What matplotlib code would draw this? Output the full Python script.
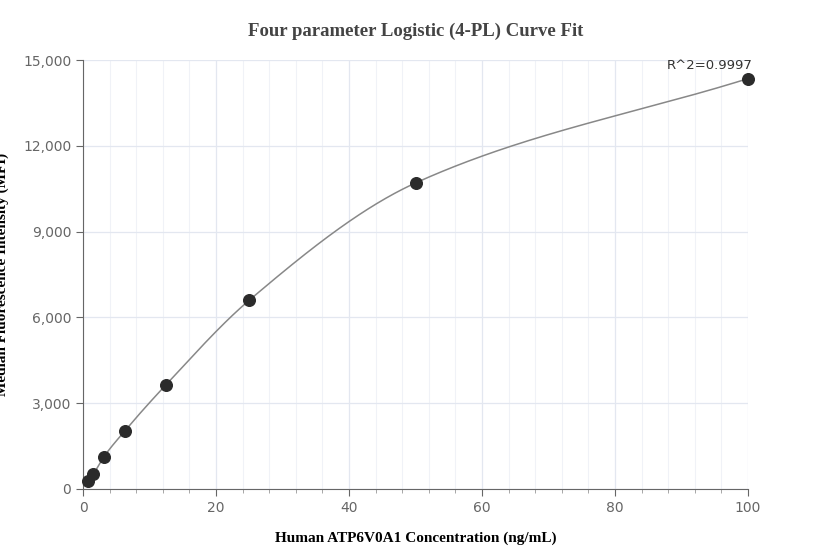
import numpy as np
import matplotlib
matplotlib.use("Agg")
import matplotlib.pyplot as plt
from matplotlib.ticker import MultipleLocator, FuncFormatter

conc = [0.78, 1.56, 3.125, 6.25, 12.5, 25, 50, 100]
mfi = [270, 520, 1120, 2020, 3650, 6600, 10700, 14350]
title = "Four parameter Logistic (4-PL) Curve Fit"
xlabel = "Human ATP6V0A1 Concentration (ng/mL)"
ylabel = "Median Fluorescence Intensity (MFI)"
r2_text = "R^2=0.9997"

def pchip(x, y, xs):
    x = np.asarray(x, float); y = np.asarray(y, float)
    h = np.diff(x); d = np.diff(y) / h
    m = np.zeros_like(y)
    for k in range(1, len(x) - 1):
        if d[k-1] * d[k] > 0:
            w1 = 2*h[k] + h[k-1]; w2 = h[k] + 2*h[k-1]
            m[k] = (w1 + w2) / (w1/d[k-1] + w2/d[k])
    m[0] = d[0]; m[-1] = d[-1]
    out = np.empty_like(xs)
    idx = np.clip(np.searchsorted(x, xs) - 1, 0, len(x) - 2)
    for i, xv in enumerate(xs):
        k = idx[i]; t = (xv - x[k]) / h[k]
        h00 = 2*t**3 - 3*t**2 + 1; h10 = t**3 - 2*t**2 + t
        h01 = -2*t**3 + 3*t**2; h11 = t**3 - t**2
        out[i] = h00*y[k] + h10*h[k]*m[k] + h01*y[k+1] + h11*h[k]*m[k+1]
    return out

fig = plt.figure(figsize=(8.32, 5.6), dpi=100)
ax = fig.add_axes([83/832, 1 - 489/560, (748-83)/832, (489-60)/560])
xs = np.linspace(conc[0], conc[-1], 600)
ax.plot(xs, pchip(conc, mfi, xs), color="#888888", lw=1.1, zorder=2)
ax.scatter(conc, mfi, s=70, color="#2b2b2b", zorder=3, clip_on=False)
ax.set_xlim(0, 100); ax.set_ylim(0, 15000)
ax.xaxis.set_major_locator(MultipleLocator(20))
ax.xaxis.set_minor_locator(MultipleLocator(4))
ax.yaxis.set_major_locator(MultipleLocator(3000))
ax.yaxis.set_major_formatter(FuncFormatter(lambda v, p: f"{int(v):,}"))
ax.grid(True, which="major", color="#e3e7f0", lw=0.9)
ax.grid(True, which="minor", axis="x", color="#f0f2f7", lw=0.8)
ax.set_axisbelow(True)
for s in ["top", "right"]:
    ax.spines[s].set_visible(False)
for s in ["left", "bottom"]:
    ax.spines[s].set_color("#666666")
ax.tick_params(colors="#666666", labelsize=10, length=5, labelcolor="#666666")
ax.tick_params(which="minor", length=3, colors="#999999")
ax.set_title(title, fontfamily="Liberation Serif", fontweight="bold", fontsize=13.5, color="#444444", pad=17)
ax.set_xlabel(xlabel, fontfamily="Liberation Serif", fontweight="bold", fontsize=11, labelpad=12)
ax.set_ylabel(ylabel, fontfamily="Liberation Serif", fontweight="bold", fontsize=11, labelpad=10)
ax.annotate(r2_text, (conc[-1], mfi[-1]), xytext=(3, 5), textcoords="offset points",
            ha="right", va="bottom", fontsize=9.5, color="#333333")
fig.savefig("out.png", dpi=100)
